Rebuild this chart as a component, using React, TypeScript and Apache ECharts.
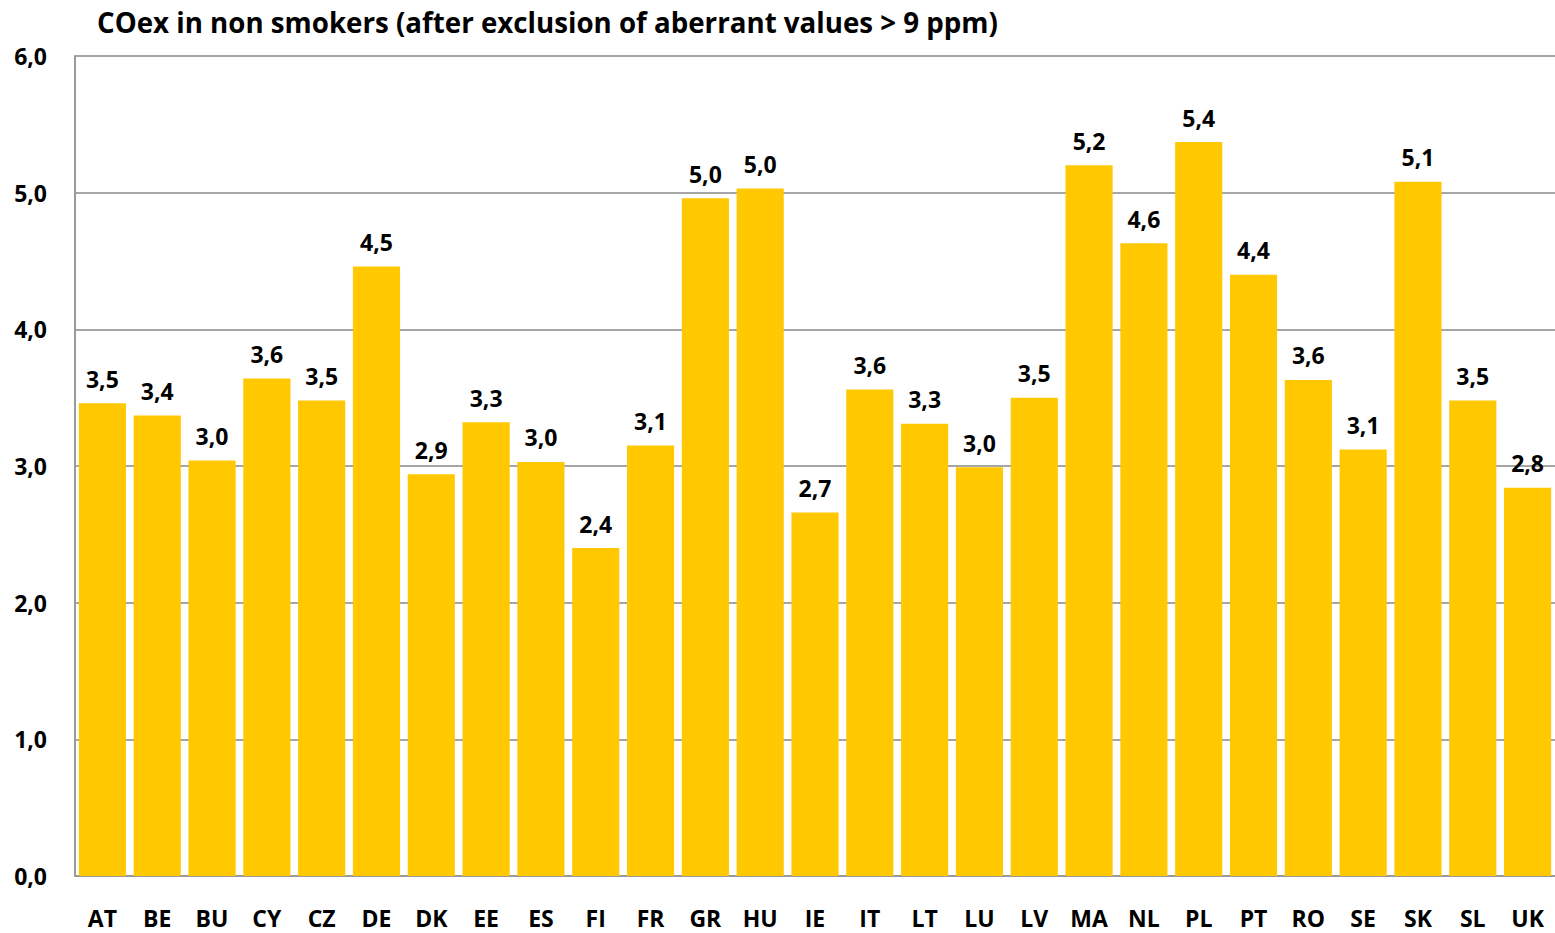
import React, { useEffect, useRef } from "react";
import * as echarts from "echarts";

const categories = ["AT","BE","BU","CY","CZ","DE","DK","EE","ES","FI","FR","GR","HU","IE","IT","LT","LU","LV","MA","NL","PL","PT","RO","SE","SK","SL","UK"];
const values = [3.46,3.37,3.04,3.64,3.48,4.46,2.94,3.32,3.03,2.40,3.15,4.96,5.03,2.66,3.56,3.31,2.99,3.50,5.20,4.63,5.37,4.40,3.63,3.12,5.08,3.48,2.84];
const titleText = "COex in non smokers (after exclusion of aberrant values > 9 ppm)";

const FONT = "'Open Sans', 'Noto Sans', sans-serif";
const fmt = (v: number) => v.toFixed(1).replace(".", ",");

export default function App() {
  const ref = useRef<HTMLDivElement>(null);
  useEffect(() => {
    if (!ref.current) return;
    const chart = echarts.init(ref.current, undefined, { renderer: "svg" });
    chart.setOption({
      animation: false,
      backgroundColor: "#ffffff",
      title: {
        text: titleText,
        left: 92,
        top: 3,
        textStyle: { fontFamily: FONT, fontWeight: "bold", fontSize: 27.7, color: "#000" },
      },
      grid: { left: 75, right: 0, top: 56, bottom: 57, containLabel: false },
      xAxis: {
        type: "category",
        data: categories,
        axisLine: { show: true, lineStyle: { color: "#9a9a9a", width: 2 } },
        axisTick: { show: false },
        axisLabel: { margin: 33, lineHeight: 18, fontFamily: FONT, fontWeight: "bold", fontSize: 23, color: "#000", interval: 0 },
      },
      yAxis: {
        type: "value",
        min: 0,
        max: 6,
        interval: 1,
        axisLine: { show: true, lineStyle: { color: "#9a9a9a", width: 2 } },
        axisTick: { show: false },
        splitLine: { show: true, lineStyle: { color: "#a6a6a6", width: 2 } },
        axisLabel: { margin: 28, fontFamily: FONT, fontWeight: "bold", fontSize: 23, color: "#000", formatter: (v: number) => fmt(v) },
      },
      series: [
        {
          type: "bar",
          data: values,
          barCategoryGap: "14%",
          itemStyle: { color: "#FFC800" },
          label: {
            show: true,
            position: "top",
            distance: 13,
            fontFamily: FONT,
            fontWeight: "bold",
            fontSize: 23,
            color: "#000",
            formatter: (p: any) => fmt(p.value),
          },
        },
      ],
    });
    return () => chart.dispose();
  }, []);
  return <div ref={ref} style={{ position: "fixed", left: 0, top: 0, width: 1555, height: 933 }} />;
}
